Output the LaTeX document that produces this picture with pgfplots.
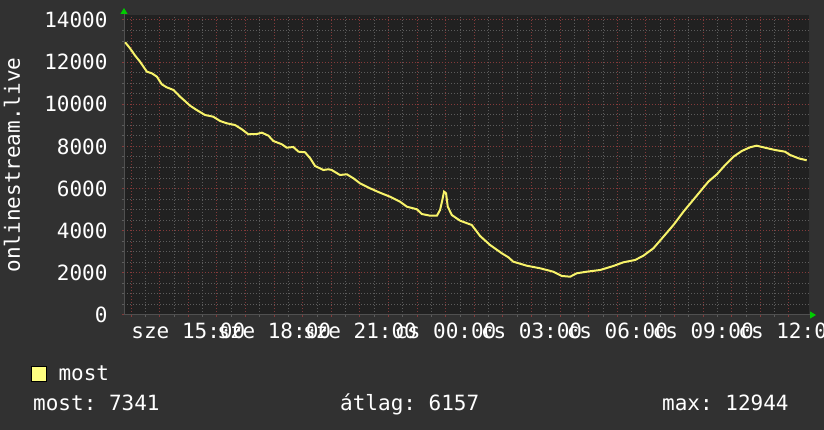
\documentclass[border=0pt]{standalone}
\usepackage{fontspec}
\setmainfont{DejaVu Sans Mono}
\usepackage{pgfplots}
\pgfplotsset{compat=1.18}
\usetikzlibrary{arrows.meta}
\definecolor{PageBg}{HTML}{313131}
\definecolor{PlotBg}{HTML}{212121}
\definecolor{GridMaj}{HTML}{843A3A}
\definecolor{GridMin}{HTML}{5C5C5C}
\definecolor{LineYel}{HTML}{F8F36A}
\definecolor{SwatchYel}{HTML}{FFFF80}
\definecolor{ArrowGreen}{HTML}{00CC00}
\definecolor{AxisGray}{HTML}{505050}
\newcommand{\rrdfont}{\fontsize{21}{24}\selectfont}
\frenchspacing

\begin{document}
\begin{tikzpicture}
\useasboundingbox (0,0) rectangle (824pt,430pt);
\clip (0,0) rectangle (824pt,430pt);
\fill[PageBg] (0,0) rectangle (824pt,430pt);
\begin{axis}[
  at={(124pt,115pt)}, anchor=south west,
  scale only axis, width=685pt, height=300pt,
  xmin=12.75, xmax=36.7,
  ymin=0, ymax=14237,
  axis lines*=left,
  axis line style={AxisGray, line width=1pt},
  x axis line style={-{Triangle[length=6pt,width=7pt,color=ArrowGreen]}, shorten >=-7pt},
  y axis line style={-{Triangle[length=6pt,width=7pt,color=ArrowGreen]}, shorten >=-7pt},
  axis background/.style={fill=PlotBg},
  xtick={13,14,...,36},
  xticklabels={,,sze 15:00,,,sze 18:00,,,sze 21:00,,,cs 00:00,,,cs 03:00,,,cs 06:00,,,cs 09:00,,,cs 12:00},
  ytick={0,2000,...,14000},
  scaled y ticks=false,
  minor x tick num=1,
  minor y tick num=3,
  grid=both,
  major grid style={GridMaj, line width=1pt, dash pattern=on 1pt off 2pt},
  minor grid style={GridMin, line width=1pt, dash pattern=on 1pt off 2pt},
  tick align=outside,
  major tick length=2pt, minor tick length=2pt,
  major tick style={GridMaj, line width=1pt},
  minor tick style={GridMin, line width=1pt},
  ticklabel style={font=\rrdfont, text=white},
  /pgf/number format/.cd, 1000 sep={}, assume math mode=true, /pgfplots/.cd,
  xticklabel style={anchor=north, yshift=-2pt},
  yticklabel style={anchor=east, xshift=-11pt},
  ylabel={onlinestream.live},
  ylabel style={at={(axis description cs:-0.1635,0.5)}, anchor=center, font=\rrdfont, text=white},
  legend style={at={(-0.1358,-0.197)}, anchor=west, draw=none, fill=none, text=white, font=\rrdfont, inner sep=0pt},
  legend image code/.code={\draw[fill=SwatchYel, draw=black, line width=0.8pt] (0pt,-7.5pt) rectangle (15pt,7.5pt); \path (24pt,0pt);},
]
\addplot[LineYel, line width=2pt, sharp plot] coordinates {
(12.79,12944) (12.96,12658) (13.14,12307) (13.31,12022) (13.43,11784)
(13.55,11547) (13.72,11471) (13.90,11310) (14.07,10949) (14.24,10807)
(14.48,10679) (14.71,10361) (14.88,10156) (15.06,9933) (15.29,9729)
(15.58,9492) (15.87,9411) (16.11,9207) (16.34,9098) (16.63,9017)
(16.87,8813) (17.10,8576) (17.39,8590) (17.57,8652) (17.80,8510)
(17.97,8258) (18.27,8101) (18.44,7940) (18.67,7973) (18.85,7750)
(19.08,7722) (19.26,7437) (19.43,7072) (19.72,6882) (19.90,6915)
(20.01,6882) (20.30,6644) (20.54,6678) (20.77,6488) (21.00,6250)
(21.35,6013) (21.70,5804) (22.05,5615) (22.40,5377) (22.64,5140)
(22.99,5017) (23.16,4793) (23.45,4713) (23.69,4713) (23.80,4983)
(23.88,5458) (23.94,5852) (24.01,5776) (24.07,5140) (24.21,4746)
(24.50,4476) (24.91,4271) (25.20,3749) (25.55,3322) (25.96,2928)
(26.19,2738) (26.36,2530) (26.83,2340) (27.30,2216) (27.76,2055)
(28.06,1851) (28.35,1818) (28.58,1979) (28.93,2055) (29.40,2136)
(29.86,2326) (30.21,2501) (30.62,2610) (30.91,2814) (31.26,3166)
(31.61,3716) (31.96,4271) (32.31,4903) (32.60,5377) (32.89,5852)
(33.18,6326) (33.48,6678) (33.77,7119) (34.06,7513) (34.35,7783)
(34.64,7959) (34.87,8035) (35.16,7940) (35.51,7831) (35.86,7750)
(36.04,7594) (36.33,7437) (36.62,7341)
};
\addlegendentry{most}
\end{axis}
\node[anchor=base west, font=\rrdfont, text=white, inner sep=0pt] at (33pt,19pt) {most: 7341};
\node[anchor=base west, font=\rrdfont, text=white, inner sep=0pt] at (340pt,19pt) {átlag: 6157};
\node[anchor=base west, font=\rrdfont, text=white, inner sep=0pt] at (662pt,19pt) {max: 12944};
\end{tikzpicture}
\end{document}
